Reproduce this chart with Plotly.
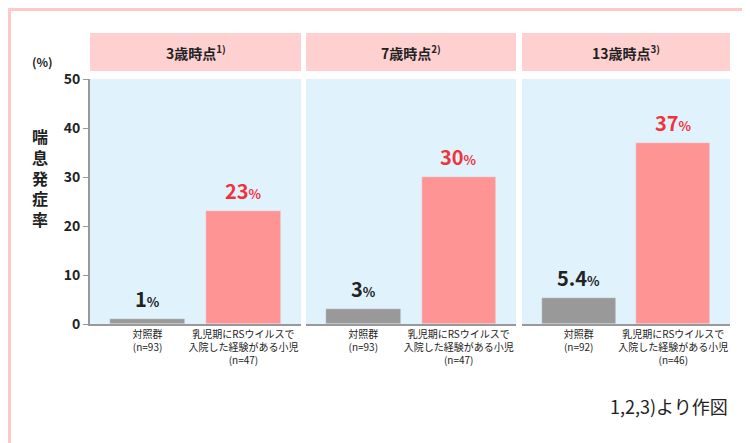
import plotly.graph_objects as go

panels = ["3歳時点<sup>1)</sup>", "7歳時点<sup>2)</sup>", "13歳時点<sup>3)</sup>"]
cats = [["対照群<br>(n=93)", "乳児期にRSウイルスで<br>入院した経験がある小児<br>(n=47)"],
        ["対照群<br>(n=93)", "乳児期にRSウイルスで<br>入院した経験がある小児<br>(n=47)"],
        ["対照群<br>(n=92)", "乳児期にRSウイルスで<br>入院した経験がある小児<br>(n=46)"]]
values = [[1, 23], [3, 30], [5.4, 37]]
labels = [["1", "23"], ["3", "30"], ["5.4", "37"]]

W, H = 750, 443
L, R, T, B = 82, 28, 71, 127
pw = W - L - R
ph = H - T - B
doms = [(82, 293), (298, 508), (514, 722)]
FONT = "Noto Sans CJK JP"
fig = go.Figure()
for i in range(3):
    xa = "x" if i == 0 else f"x{i+1}"
    fig.add_trace(go.Bar(x=[0, 1], y=values[i], marker_color=["#999999", "#ff9494"],
                         width=0.78, xaxis=xa, yaxis="y", showlegend=False))
    d = [(doms[i][0] - L) / pw, (doms[i][1] - L) / pw]
    key = "xaxis" if i == 0 else f"xaxis{i+1}"
    fig.layout[key] = dict(domain=d, range=[-0.6, 1.6], tickmode="array", tickvals=[0, 1],
                           ticktext=cats[i], showline=True, linecolor="#999999", linewidth=2,
                           ticks="", showgrid=False, zeroline=False, anchor="y", automargin=False,
                           tickfont=dict(size=10, color="#222", family=FONT))
    for j in range(2):
        col = "#222222" if j == 0 else "#f0323c"
        fig.add_annotation(x=j, y=values[i][j], xref=xa, yref="y", yanchor="bottom", yshift=4,
                           text=f"<b>{labels[i][j]}</b><span style='font-size:13px'><b>%</b></span>",
                           showarrow=False, font=dict(size=20, color=col, family=FONT))
    fig.add_shape(type="rect", xref="paper", yref="paper", layer="below",
                  x0=d[0], x1=d[1], y0=(H - 63 - B) / ph, y1=(H - 25 - B) / ph,
                  fillcolor="#ffd0d0", line_width=0)
    fig.add_annotation(x=(d[0] + d[1]) / 2, y=(H - 44 - B) / ph, xref="paper", yref="paper",
                       text=f"<b>{panels[i]}</b>", showarrow=False, xanchor="center", yanchor="middle",
                       font=dict(size=14, color="#222", family=FONT))

fig.update_layout(
    width=W, height=H, margin=dict(l=L, r=R, t=T, b=B, autoexpand=False),
    paper_bgcolor="white", plot_bgcolor="#e0f3fc", bargap=0,
    font=dict(family=FONT),
    yaxis=dict(range=[0, 50], dtick=10, showgrid=False, zeroline=False, showline=True, automargin=False,
               linecolor="#999999", linewidth=2, ticks="outside", ticklen=5, tickcolor="#999999",
               tickfont=dict(size=14, color="#222", family=FONT)),
)
fig.update_yaxes(tickprefix="<b>", ticksuffix="</b>")
fig.add_annotation(x=-48 / pw, y=1.03, xref="paper", yref="paper", text="<b>(%)</b>", showarrow=False,
                   font=dict(size=12, color="#222"), xanchor="center", yanchor="bottom")
fig.add_annotation(x=-50 / pw, y=0.6, xref="paper", yref="paper", text="<b>喘<br>息<br>発<br>症<br>率</b>",
                   showarrow=False, font=dict(size=16, color="#222"), xanchor="center", yanchor="middle")
fig.add_annotation(x=1, y=-(398 - 316) / ph, xref="paper", yref="paper", text="1,2,3)より作図",
                   showarrow=False, font=dict(size=18, color="#222"), xanchor="right", yanchor="middle")
fig.add_shape(type="rect", xref="paper", yref="paper", x0=-(L - 1.5) / pw, x1=1 + (R - 1.5) / pw,
              y0=-(B - 1.5) / ph, y1=1 + (T - 1.5) / ph,
              line=dict(color="#ffc8c8", width=3), fillcolor="rgba(0,0,0,0)")
fig.write_html("out.html")
